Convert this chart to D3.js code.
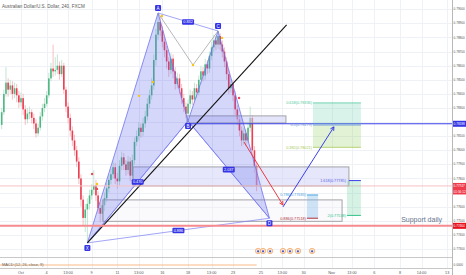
<!DOCTYPE html>
<html><head><meta charset="utf-8">
<script src="https://cdn.jsdelivr.net/npm/d3@7"></script>
<style>html,body{margin:0;padding:0;background:#fff;overflow:hidden}</style>
</head><body><svg id="c" width="466" height="275"></svg>
<script>
const title = "Australian Dollar/U.S. Dollar, 240, FXCM";
const opens = [.7818,.7827,.7840,.7848,.7843,.7846,.7840,.7844,.7839,.7834,
 .7837,.7829,.7822,.7826,.7827,.7823,.7819,.7812,.7816,.7824,
 .7830,.7833,.7839,.7851,.7858,.7856,.7857,.7860,.7854,.7860,
 .7843,.7831,.7823,.7814,.7807,.7800,.7792,.7780,.7765,.7752,
 .7758,.7762,.7768,.7772,.7775,.7768,.7759,.7755,.7761,.7766,
 .7773,.7779,.7783,.7788,.7780,.7778,.7789,.7795,.7790,.7786,
 .7792,.7782,.7793,.7806,.7810,.7816,.7813,.7819,.7824,.7833,
 .7839,.7846,.7864,.7882,.7891,.7885,.7877,.7871,.7863,.7857,
 .7865,.7856,.7847,.7851,.7844,.7837,.7831,.7826,.7833,.7839,
 .7836,.7844,.7841,.7850,.7856,.7853,.7861,.7858,.7867,.7873,
 .7878,.7875,.7881,.7875,.7870,.7863,.7854,.7844,.7847,.7839,
 .7829,.7822,.7814,.7807,.7812,.7807,.7816,.7823,.7800,.7789];
const closes = [.7827,.7840,.7848,.7843,.7846,.7840,.7844,.7839,.7834,.7837,
 .7829,.7822,.7826,.7827,.7823,.7819,.7812,.7816,.7824,.7830,
 .7833,.7839,.7851,.7858,.7856,.7857,.7860,.7854,.7860,.7843,
 .7831,.7823,.7814,.7807,.7800,.7792,.7780,.7765,.7752,.7758,
 .7762,.7768,.7772,.7775,.7768,.7759,.7755,.7761,.7766,.7773,
 .7779,.7783,.7788,.7780,.7778,.7789,.7795,.7790,.7786,.7792,
 .7782,.7793,.7806,.7810,.7816,.7813,.7819,.7824,.7833,.7839,
 .7846,.7864,.7882,.7891,.7885,.7877,.7871,.7863,.7857,.7865,
 .7856,.7847,.7851,.7844,.7837,.7831,.7826,.7833,.7839,.7836,
 .7844,.7841,.7850,.7856,.7853,.7861,.7858,.7867,.7873,.7878,
 .7875,.7881,.7875,.7870,.7863,.7854,.7844,.7847,.7839,.7829,
 .7822,.7814,.7807,.7812,.7807,.7816,.7823,.7800,.7789,.77747];
const highs = [.7830,.7843,.7859,.7851,.7850,.7849,.7848,.7847,.7842,.7841,
 .7840,.7832,.7830,.7831,.7829,.7826,.7822,.7819,.7827,.7833,
 .7837,.7842,.7855,.7862,.7875,.7866,.7868,.7863,.7864,.7862,
 .7845,.7834,.7826,.7817,.7811,.7803,.7795,.7783,.7768,.7762,
 .7766,.7772,.7776,.7786,.7779,.7771,.7763,.7765,.7770,.7777,
 .7783,.7787,.7792,.7791,.7784,.7793,.7799,.7798,.7793,.7796,
 .7795,.7797,.7809,.7814,.7820,.7819,.7823,.7828,.7837,.7843,
 .7851,.7868,.7886,.7897,.7895,.7888,.7880,.7874,.7866,.7869,
 .7868,.7859,.7855,.7854,.7847,.7840,.7834,.7836,.7843,.7842,
 .7848,.7847,.7853,.7860,.7859,.7865,.7864,.7870,.7877,.7882,
 .7881,.7885,.7883,.7878,.7873,.7866,.7857,.7851,.7850,.7842,
 .7832,.7825,.7817,.7816,.7815,.7820,.7831,.7825,.7803,.7791];
const lows = [.7815,.7825,.7838,.7838,.7840,.7836,.7837,.7834,.7830,.7831,
 .7825,.7818,.7819,.7822,.7819,.7815,.7809,.7810,.7814,.7821,
 .7827,.7831,.7837,.7849,.7852,.7853,.7854,.7850,.7852,.7840,
 .7827,.7819,.7810,.7803,.7796,.7788,.7776,.7760,.7746,.7742,
 .7734,.7758,.7765,.7769,.7764,.7755,.7749,.7750,.7757,.7763,
 .7770,.7776,.7780,.7776,.7773,.7775,.7786,.7786,.7782,.7783,
 .7778,.7779,.7790,.7803,.7807,.7809,.7810,.7816,.7821,.7830,
 .7836,.7843,.7860,.7878,.7881,.7873,.7866,.7858,.7852,.7854,
 .7851,.7843,.7844,.7840,.7833,.7827,.7823,.7821,.7830,.7832,
 .7834,.7837,.7839,.7847,.7849,.7850,.7854,.7855,.7864,.7870,
 .7871,.7872,.7871,.7866,.7859,.7850,.7840,.7841,.7835,.7825,
 .7818,.7810,.7803,.7804,.7803,.7805,.7813,.7796,.7784,.7771];

const priceTicks = [0.790,0.789,0.788,0.787,0.786,0.785,0.784,0.783,0.782,0.781,0.780,0.779,0.778,0.777,0.776,0.775,0.774,0.773];
const timeTickPos = [9,21,31,42,54,64,75,87,98,108,121,131,141,154,163.5,174,186,196,208];
const timeTickLabels = ["Oct","4","13:00","9","11","13:00","16","18","13:00","23","25","13:00","30","Nov","13:00","6","8","14:00","13"];

const patternNames = ["X","A","B","C","D"];
const patternIdx = [40,73,87,101,125];
const patternPrice = [0.77343,0.78974,0.78208,0.78846,0.77518];
const ratioLabels = ["0.470","0.832","2.037","0.886"];

const trendLine = [[40,0.77343],[133,0.78889]];
const grayPath = [[73,0.78974],[89.3,0.78605],[101,0.78846]];
const boxes = [ // [i0,i1,pTop,pBottom]
  [86.5,132.7,0.78244,0.78194],
  [61.3,162.1,0.77882,0.77747],
  [47.3,158.9,0.77648,0.77496]
];
const blueLevel = 0.78188;
const supportLevel = 0.77464;
const lastPrice = 0.77747;
const fibUpper = [0.78336,0.78179,0.78021];
const fibUpperNames = ["0.618","0.5","0.382"];
const fibExt = [0.77785,0.77538];
const fibExtNames = ["1.618","2"];
const fibLower = [0.77683,0.77518];
const fibLowerNames = ["0.786","0.886"];
const redArrow = [[113.1,0.78059],[131.3,0.77612]];
const blueArrow = [[131.3,0.77598],[155.1,0.78166]];
const dotIdx =   [64.1,70.6,74.8,89.3,102.9,110.8,42.2,44.5,44.5];
const dotPrice = [0.78386,0.78485,0.78953,0.78605,0.78797,0.78371,0.77832,0.77761,0.77726];
const dotKind =  ["y","y","y","y","y","r","r","y","r"];
const eventIdx = [119.7,122,125.3,131.3,134.6,138.3,144.9];

const W=466,H=275,PR=452,PB=257;
const FONT='"Liberation Sans","DejaVu Sans",Arial,sans-serif';
const x = d3.scaleLinear().domain([0,119]).range([1.7,256.6]);
const y = d3.scaleLinear().domain([0.77243,0.79066]).range([PB,0]);
const svg = d3.select("#c").style("font-family",FONT);
svg.append("rect").attr("width",W).attr("height",H).attr("fill","#fff");
svg.append("defs").append("clipPath").attr("id","mc").append("rect").attr("x",0).attr("y",0).attr("width",PR).attr("height",PB);

// grid
const grid = svg.append("g");
grid.selectAll(".hg").data(priceTicks).join("line")
  .attr("x1",0).attr("x2",PR).attr("y1",d=>Math.round(y(d))+0.5).attr("y2",d=>Math.round(y(d))+0.5)
  .attr("stroke","#eef1f6").attr("stroke-width",1);
grid.selectAll(".vg").data(timeTickPos).join("line")
  .attr("y1",0).attr("y2",268).attr("x1",d=>Math.round(x(d))+0.5).attr("x2",d=>Math.round(x(d))+0.5)
  .attr("stroke","#eef1f6").attr("stroke-width",1);

const main = svg.append("g").attr("clip-path","url(#mc)");

// candles
const idx = d3.range(closes.length);
const up = i => closes[i] >= opens[i];
main.selectAll(".wick").data(idx).join("line")
  .attr("x1",i=>x(i)).attr("x2",i=>x(i)).attr("y1",i=>y(highs[i])).attr("y2",i=>y(lows[i]))
  .attr("stroke",i=>up(i)?"#a8dcc2":"#f5a3ab").attr("stroke-width",0.7);
main.selectAll(".body").data(idx).join("rect")
  .attr("x",i=>x(i)-0.8).attr("width",1.6)
  .attr("y",i=>y(Math.max(opens[i],closes[i])))
  .attr("height",i=>Math.max(0.8,Math.abs(y(opens[i])-y(closes[i]))))
  .attr("fill",i=>up(i)?"#4fb784":"#ec3e52");

// boxes
const boxFill = ["rgba(205,208,245,0.55)","rgba(205,208,248,0.5)","rgba(240,240,248,0.35)"];
main.selectAll(".box").data(boxes).join("rect")
  .attr("x",d=>x(d[0])).attr("width",d=>x(d[1])-x(d[0]))
  .attr("y",d=>y(d[2])).attr("height",d=>y(d[3])-y(d[2]))
  .attr("fill",(d,i)=>boxFill[i]).attr("stroke","#a3a3a8").attr("stroke-width",1);

// pattern triangles
const P = patternIdx.map((d,i)=>[x(d),y(patternPrice[i])]);
const tri = (a,b,c)=>`M${P[a]}L${P[b]}L${P[c]}Z`;
main.append("path").attr("d",tri(0,1,2)).attr("fill","rgba(88,96,235,0.26)").attr("stroke","#6f74ee").attr("stroke-width",0.8);
main.append("path").attr("d",tri(2,3,4)).attr("fill","rgba(88,96,235,0.26)").attr("stroke","#6f74ee").attr("stroke-width",0.8);
const pairs = [[0,2],[1,3],[2,4],[0,4]];
main.selectAll(".rl").data(pairs).join("line")
  .attr("x1",d=>P[d[0]][0]).attr("y1",d=>P[d[0]][1]).attr("x2",d=>P[d[1]][0]).attr("y2",d=>P[d[1]][1])
  .attr("stroke","#7a7ef0").attr("stroke-width",0.7);

// gray V
main.append("path").attr("d",d3.line().x(d=>x(d[0])).y(d=>y(d[1]))(grayPath))
  .attr("fill","none").attr("stroke","#9a9a9a").attr("stroke-width",0.7);

// trend line
main.append("line").attr("x1",x(trendLine[0][0])).attr("y1",y(trendLine[0][1]))
  .attr("x2",x(trendLine[1][0])).attr("y2",y(trendLine[1][1])).attr("stroke","#111").attr("stroke-width",1.1);

// horizontal lines
main.append("line").attr("x1",0).attr("x2",PR).attr("y1",y(lastPrice)).attr("y2",y(lastPrice)).attr("stroke","#f6c1c4").attr("stroke-width",1);
main.append("line").attr("x1",0).attr("x2",PR).attr("y1",y(supportLevel)).attr("y2",y(supportLevel)).attr("stroke","#f58a8f").attr("stroke-width",2);
main.append("line").attr("x1",x(86.5)).attr("x2",PR).attr("y1",y(blueLevel)).attr("y2",y(blueLevel)).attr("stroke","#3b3fe8").attr("stroke-width",1.1);

// fib upper (green box)
const fx0 = x(145.3), fx1 = x(167.7);
main.append("rect").attr("x",fx0).attr("width",fx1-fx0).attr("y",y(fibUpper[0])).attr("height",y(fibUpper[1])-y(fibUpper[0])).attr("fill","rgba(80,200,160,0.22)");
main.append("rect").attr("x",fx0).attr("width",fx1-fx0).attr("y",y(fibUpper[1])).attr("height",y(fibUpper[2])-y(fibUpper[1])).attr("fill","rgba(150,210,100,0.28)");
const fibUpCol = ["#52c9a0","#6a8fd8","#a8c957"];
main.selectAll(".fu").data(fibUpper).join("line").attr("x1",fx0).attr("x2",fx1).attr("y1",d=>y(d)).attr("y2",d=>y(d)).attr("stroke",(d,i)=>fibUpCol[i]).attr("stroke-width",0.8);
main.selectAll(".fut").data(fibUpper).join("text").attr("x",fx0-1).attr("y",d=>y(d)).attr("dy","0.35em")
  .attr("text-anchor","end").attr("font-size",3.8).attr("fill",(d,i)=>fibUpCol[i])
  .text((d,i)=>`${fibUpperNames[i]}(${d.toFixed(5)})`);

// fib extension
const ex0 = x(161.2), ex1 = x(167.7);
main.append("rect").attr("x",ex0).attr("width",ex1-ex0).attr("y",y(fibExt[0])).attr("height",y(fibExt[1])-y(fibExt[0])).attr("fill","rgba(90,205,150,0.25)");
const extCol = ["#3b3fe8","#35c28a"];
main.selectAll(".fe").data(fibExt).join("line").attr("x1",(d,i)=>i?ex0:x(162.1)).attr("x2",ex1).attr("y1",d=>y(d)).attr("y2",d=>y(d)).attr("stroke",(d,i)=>extCol[i]).attr("stroke-width",1);
main.selectAll(".fet").data(fibExt).join("text").attr("x",x(160.7)).attr("y",d=>y(d)).attr("dy","0.35em")
  .attr("text-anchor","end").attr("font-size",3.8).attr("fill",(d,i)=>i?"#35c28a":"#5a5ee0")
  .text((d,i)=>`${fibExtNames[i]}(${d.toFixed(5)})`);

// fib lower (blue box)
const lx0 = x(142.5), lx1 = x(147.7);
main.append("rect").attr("x",lx0).attr("width",lx1-lx0).attr("y",y(fibLower[0])).attr("height",y(fibLower[1])-y(fibLower[0])).attr("fill","rgba(120,180,230,0.35)");
const lowCol = ["#4aa3df","#b0303a"];
main.selectAll(".fl").data(fibLower).join("line").attr("x1",lx0).attr("x2",lx1).attr("y1",d=>y(d)).attr("y2",d=>y(d)).attr("stroke",(d,i)=>lowCol[i]).attr("stroke-width",1);
main.selectAll(".flt").data(fibLower).join("text").attr("x",lx0-1).attr("y",d=>y(d)).attr("dy","0.35em")
  .attr("text-anchor","end").attr("font-size",3.8).attr("fill",(d,i)=>lowCol[i])
  .text((d,i)=>`${fibLowerNames[i]}(${d.toFixed(5)})`);

// arrows
function arrow(pts,col){
  const x1=x(pts[0][0]),y1=y(pts[0][1]),x2=x(pts[1][0]),y2=y(pts[1][1]);
  main.append("line").attr("x1",x1).attr("y1",y1).attr("x2",x2).attr("y2",y2).attr("stroke",col).attr("stroke-width",1);
  const a=Math.atan2(y2-y1,x2-x1), L=4, w=0.5;
  const p1=[x2-L*Math.cos(a-w),y2-L*Math.sin(a-w)], p2=[x2-L*Math.cos(a+w),y2-L*Math.sin(a+w)];
  main.append("path").attr("d",`M${p1}L${x2},${y2}L${p2}`).attr("fill","none").attr("stroke",col).attr("stroke-width",1);
}
arrow(redArrow,"#e83a45");
arrow(blueArrow,"#3b3fe8");

// dots
main.selectAll(".dot").data(dotIdx).join("circle").attr("cx",d=>x(d)).attr("cy",(d,i)=>y(dotPrice[i])).attr("r",1.2)
  .attr("fill",(d,i)=>dotKind[i]==="y"?"#f5c518":"#ef4a55");

// pattern labels
const lab = main.append("g");
patternNames.forEach((n,i)=>{
  const above = (i===1||i===3);
  const cx=P[i][0], cy=P[i][1]+(above?-5:5);
  lab.append("rect").attr("x",cx-3).attr("y",cy-3).attr("width",6).attr("height",6).attr("rx",1).attr("fill","#3434e6");
  lab.append("text").attr("x",cx).attr("y",cy).attr("dy","0.36em").attr("text-anchor","middle").attr("font-size",4.5).attr("fill","#fff").text(n);
});
pairs.forEach((p,i)=>{
  const cx=(P[p[0]][0]+P[p[1]][0])/2, cy=(P[p[0]][1]+P[p[1]][1])/2;
  lab.append("rect").attr("x",cx-6).attr("y",cy-2.8).attr("width",12).attr("height",5.6).attr("rx",1).attr("fill","#3434e6");
  lab.append("text").attr("x",cx).attr("y",cy).attr("dy","0.36em").attr("text-anchor","middle").attr("font-size",3.8).attr("fill","#fff").text(ratioLabels[i]);
});

// support text
svg.append("text").attr("x",442).attr("y",y(supportLevel)-3.5).attr("text-anchor","end").attr("font-size",7).attr("fill","#66758f").text("Support daily");

// event icons
const ev = svg.append("g");
eventIdx.forEach(d=>{
  ev.append("circle").attr("cx",x(d)).attr("cy",251).attr("r",2.7).attr("fill","#fbe4cf").attr("stroke","#f2a05a").attr("stroke-width",0.7);
  ev.append("circle").attr("cx",x(d)).attr("cy",251.3).attr("r",1.1).attr("fill","#3d59d6");
});

// title
svg.append("text").attr("x",2).attr("y",7.5).attr("font-size",4.6).attr("fill","#5a5a5a").text(title);

// MACD pane
svg.append("line").attr("x1",0).attr("x2",PR).attr("y1",257.5).attr("y2",257.5).attr("stroke","#c8c8c8");
svg.append("line").attr("x1",0).attr("x2",PR).attr("y1",268.5).attr("y2",268.5).attr("stroke","#c8c8c8");
svg.append("line").attr("x1",0).attr("x2",x(119)).attr("y1",265).attr("y2",265).attr("stroke","#f7a868").attr("stroke-width",0.8);
svg.append("text").attr("x",2).attr("y",265.6).attr("font-size",3.9).attr("fill","#666").text("MACD (12, 26, close, 9)");

// right axis
svg.append("line").attr("x1",PR+0.5).attr("x2",PR+0.5).attr("y1",0).attr("y2",275).attr("stroke","#b8b8b8");
const special = [blueLevel,lastPrice,supportLevel];
const vis = priceTicks.filter(t=>special.every(s=>Math.abs(y(t)-y(s))>5));
const AX = 453.6, AF = 3.1;
svg.selectAll(".pt").data(vis).join("text").attr("x",AX).attr("y",d=>y(d)).attr("dy","0.35em")
  .attr("font-size",AF).attr("fill","#555").text(d=>d.toFixed(5));
svg.append("text").attr("x",AX).attr("y",265).attr("dy","0.35em").attr("font-size",AF).attr("fill","#555").text("0.0000");
function tag(p,col,txt,dy){
  const cy=y(p)+(dy||0);
  svg.append("rect").attr("x",PR+1).attr("y",cy-3).attr("width",13).attr("height",6).attr("fill",col);
  svg.append("text").attr("x",AX).attr("y",cy).attr("dy","0.35em").attr("font-size",AF).attr("fill","#fff").text(txt);
}
tag(blueLevel,"#3434e6",blueLevel.toFixed(5));
tag(lastPrice,"#ef3b4c",lastPrice.toFixed(5));
tag(lastPrice,"#ef3b4c","01:56:12",5.5);
tag(supportLevel,"#e8121f",supportLevel.toFixed(5));

// bottom axis labels
svg.selectAll(".tt").data(timeTickPos).join("text").attr("x",d=>x(d)).attr("y",274.3).attr("text-anchor","middle")
  .attr("font-size",3.8).attr("fill","#555").text((d,i)=>timeTickLabels[i]);
</script></body></html>
